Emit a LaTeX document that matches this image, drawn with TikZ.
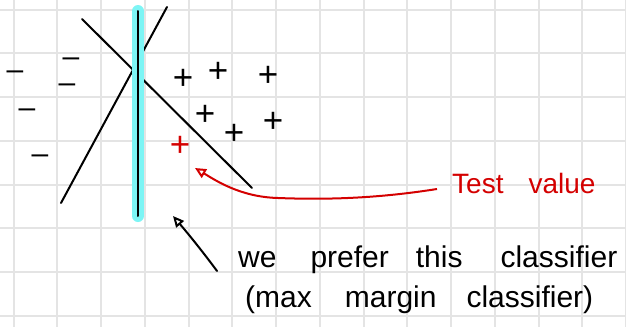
\documentclass[tikz,border=0pt]{standalone}
\usepackage{fontspec}
\setmainfont{Liberation Sans}
\usetikzlibrary{arrows.meta}
\definecolor{gridgray}{RGB}{228,228,228}
\definecolor{hlcyan}{RGB}{125,245,245}
\definecolor{inkred}{RGB}{212,0,0}
\begin{document}
\begin{tikzpicture}[x=1pt,y=-1pt,
  gridline/.style={draw=gridgray,line width=2pt},
  ink/.style={draw=black,line width=2pt,line cap=round},
  datapt/.style={inner sep=0pt,font=\fontsize{35}{35}\selectfont,anchor=center,yshift=-2pt},
  negpt/.style={inner sep=0pt,font=\fontsize{30}{30}\selectfont,anchor=center,yshift=-3.5pt},
  hand/.style={inner sep=0pt,anchor=base west,font=\fontsize{30}{30}\selectfont},
  opentip/.style={-{Triangle[open,length=11pt,width=10pt,line width=2pt]}}
]
\useasboundingbox[fill=white] (0,0) rectangle (626,327);
% grid
\foreach \i in {0,...,14} {\draw[gridline] (13.5+43.75*\i,0) -- (13.5+43.75*\i,327);}
\foreach \j in {0,...,7} {\draw[gridline] (0,9.7+43.75*\j) -- (626,9.7+43.75*\j);}
% classifiers
\coordinate (a1) at (82,19);
\coordinate (a2) at (252,188);
\coordinate (b1) at (167,7);
\coordinate (b2) at (61,203);
\coordinate (c1) at (138,11);
\coordinate (c2) at (138,216);
\draw[ink] (a1) -- (a2);
\draw[ink] (b1) -- (b2);
\draw[draw=hlcyan,line width=12pt,line cap=round] (c1) -- (c2);
\draw[ink] (c1) -- (c2);
% negative points
\node[negpt] (n1) at (15,72) {–};
\node[negpt] (n2) at (71,59) {–};
\node[negpt] (n3) at (67,85) {–};
\node[negpt] (n4) at (27,110) {–};
\node[negpt] (n5) at (40,156) {–};
% positive points
\node[datapt] (p1) at (183,77) {+};
\node[datapt] (p2) at (218,70) {+};
\node[datapt] (p3) at (268,74) {+};
\node[datapt] (p4) at (205,113) {+};
\node[datapt] (p5) at (234,132) {+};
\node[datapt] (p6) at (273,120) {+};
\node[datapt,text=inkred] (tp) at (180,144) {+};
% labels
\node[hand,text=inkred,font=\fontsize{28}{28}\selectfont] (tv) at (452,193) {Test\hspace{25pt}value};
\node[hand] (l1) at (238,267) {we\hspace{34pt}prefer\hspace{27pt}this\hspace{38pt}classifier};
\node[hand] (l2) at (245,307) {(max\hspace{33pt}margin\hspace{30pt}classifier)};
% arrows
\coordinate (tvstart) at ([xshift=-15pt,yshift=4pt]tv.base west);
\coordinate (tvtip) at (195,168);
\draw[draw=inkred,line width=2pt,opentip] (tvstart) .. controls (380,198) and (330,200) .. (278,198) .. controls (240,197) and (215,180) .. (tvtip);
\coordinate (l1start) at (217,271);
\coordinate (l1tip) at (173,216);
\draw[ink,opentip] (l1start) .. controls (200,248) and (185,230) .. (l1tip);
\end{tikzpicture}
\end{document}
